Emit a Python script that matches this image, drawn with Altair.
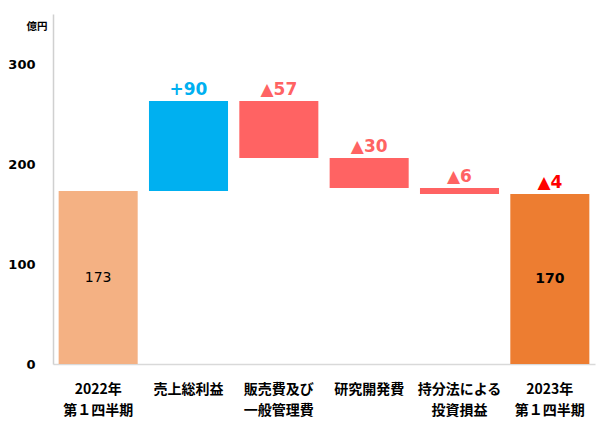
import altair as alt
import pandas as pd

categories = [
    "2022年\n第１四半期",
    "売上総利益",
    "販売費及び\n一般管理費",
    "研究開発費",
    "持分法による\n投資損益",
    "2023年\n第１四半期",
]
start_value = 173
changes = [90, -57, -30, -6]
end_value = 170
top_labels = ["", "+90", "▲57", "▲30", "▲6", "▲4"]
inner_labels = ["173", "", "", "", "", "170"]

# build the floating bars of the waterfall
rows = []
rows.append(dict(cat=categories[0], lo=0, hi=start_value, kind="start", tkind="plus"))
level = start_value
for cat, delta in zip(categories[1:-1], changes):
    new_level = level + delta
    rows.append(dict(cat=cat, lo=min(level, new_level), hi=max(level, new_level),
                     kind="up" if delta > 0 else "down",
                     tkind="plus" if delta > 0 else "minus"))
    level = new_level
rows.append(dict(cat=categories[-1], lo=0, hi=end_value, kind="end", tkind="total"))
df = pd.DataFrame(rows)
df["top"] = top_labels
df["inner"] = inner_labels
df["mid"] = (df["lo"] + df["hi"]) / 2

x_enc = alt.X("cat:N", sort=categories, title=None,
              scale=alt.Scale(paddingInner=0.125, paddingOuter=0.0625),
              axis=alt.Axis(labelExpr="split(datum.value, '\\n')", labelAngle=0,
                            labelFont="Noto Sans CJK JP", labelFontSize=14,
                            labelFontWeight="bold", labelColor="#000000",
                            labelLineHeight=21, labelPadding=18, ticks=False,
                            domainColor="#D9D9D9", domainWidth=1.5))

base = alt.Chart(df).encode(x=x_enc)

bars = base.mark_bar().encode(
    y=alt.Y("lo:Q", title="億円", scale=alt.Scale(domain=[0, 350], nice=False),
            axis=alt.Axis(values=[0, 100, 200, 300], grid=False, ticks=False,
                          labelFont="DejaVu Sans", labelFontSize=13, labelFontWeight="bold",
                          labelColor="#000000", labelPadding=18,
                          domainColor="#D0D0D0", domainWidth=1.5,
                          titleAngle=0, titleAlign="right", titleBaseline="middle",
                          titleX=-6, titleY=12, titleFont="Noto Sans CJK JP",
                          titleFontSize=10.5, titleFontWeight="bold", titleColor="#000000")),
    y2="hi:Q",
    color=alt.Color("kind:N", legend=None,
                    scale=alt.Scale(domain=["start", "up", "down", "end"],
                                    range=["#F4B183", "#00B0F0", "#FF6363", "#ED7D31"])),
)

top_text = base.mark_text(font="DejaVu Sans", fontSize=17, fontWeight="bold",
                          baseline="alphabetic", dy=-6).encode(
    y="hi:Q",
    text="top:N",
    color=alt.Color("tkind:N", legend=None,
                    scale=alt.Scale(domain=["plus", "minus", "total"],
                                    range=["#00B0F0", "#FF6363", "#FF0000"])),
).transform_filter("datum.top != ''")

inner_start = base.mark_text(font="DejaVu Sans", fontSize=14, color="#000000",
                             baseline="middle").encode(
    y="mid:Q", text="inner:N"
).transform_filter("datum.kind == 'start'")

inner_end = base.mark_text(font="DejaVu Sans", fontSize=14, fontWeight="bold",
                           color="#000000", baseline="middle").encode(
    y="mid:Q", text="inner:N"
).transform_filter("datum.kind == 'end'")

chart = (bars + top_text + inner_start + inner_end).resolve_scale(
    color="independent"
).properties(
    width=542, height=350,
    autosize=alt.AutoSizeParams(type="none"),
    padding={"left": 45, "top": 6, "right": 7, "bottom": 58},
).configure_view(stroke=None)

chart.save("out.html", embed_options={"renderer": "svg", "actions": False})
